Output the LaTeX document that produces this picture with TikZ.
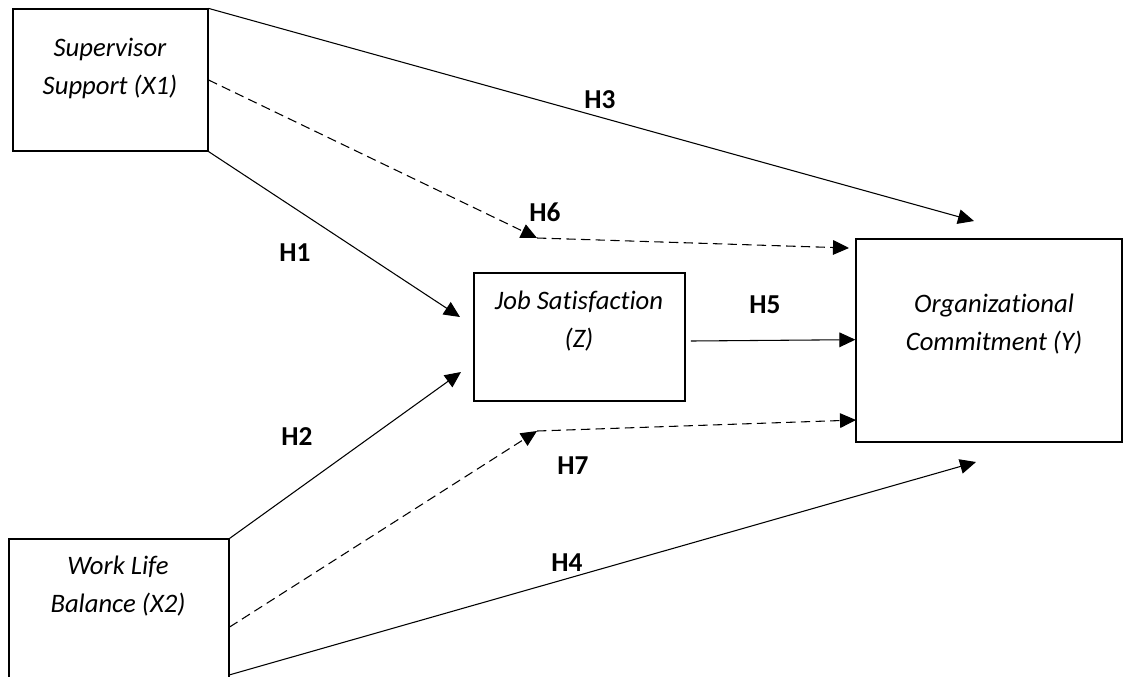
\documentclass[tikz,border=0pt]{standalone}
\usepackage{fontspec}
\setmainfont{Carlito}[Ligatures=NoCommon]
\usetikzlibrary{arrows.meta,fit}
\begin{document}
\begin{tikzpicture}[x=0.75pt,y=-0.75pt,
  box/.style={draw, line width=0.9pt, inner sep=0pt},
  txt/.style={align=center, font=\fontsize{20}{28.5}\selectfont\itshape, inner sep=0pt},
  hlab/.style={font=\fontsize{20.5}{24}\selectfont\bfseries, inner sep=0pt},
  conn/.style={line width=0.8pt, -{Triangle[length=12pt,width=11pt]}},
  dconn/.style={conn, dash pattern=on 7pt off 4pt}]
\useasboundingbox (0,0) rectangle (1123,676);
% boxes
\node[box, fit={(13,9) (208,151)}] (x1) {};
\node[box, fit={(474,273) (685,401)}] (z) {};
\node[box, fit={(856,239) (1122,442)}] (y) {};
\node[box, fit={(9,539) (229,715)}] (x2) {};
% box texts
\node[txt] (x1t) at (110,68) {Supervisor\\Support (X1)};
\node[txt] (zt) at (579,321) {Job Satisfaction\\(Z)};
\node[txt] (yt) at (994,324) {Organizational\\Commitment (Y)};
\node[txt] (x2t) at (118,586) {Work Life\\Balance (X2)};
% free ends
\coordinate (t3) at (974,221);
\coordinate (m1) at (537,238);
\coordinate (e6) at (849,248);
\coordinate (t1) at (460,317);
\coordinate (t2) at (461,372);
\coordinate (m2) at (537,431);
\coordinate (e7) at (856,420);
\coordinate (s4) at (229,675);
\coordinate (t4) at (976,462);
% connectors
\draw[conn] (x1.north east) -- (t3);
\draw[dconn] (x1.east) -- (m1);
\draw[dconn] (m1) -- (e6);
\draw[conn] (x1.south east) -- (t1);
\draw[conn] (x2.north east) -- (t2);
\draw[dconn] (x2.east) -- (m2);
\draw[dconn] (m2) -- (e7);
\draw[conn] ([xshift=4pt,yshift=-3pt]z.east) -- ([yshift=-2pt]z.east -| y.west);
\draw[conn] (s4) -- (t4);
% labels
\node[hlab] (h3) at (600,100) {H3};
\node[hlab] (h6) at (545,212) {H6};
\node[hlab] (h1) at (295,253) {H1};
\node[hlab] (h5) at (765,305) {H5};
\node[hlab] (h2) at (297,437) {H2};
\node[hlab] (h7) at (573,466) {H7};
\node[hlab] (h4) at (567,563) {H4};
\end{tikzpicture}
\end{document}
